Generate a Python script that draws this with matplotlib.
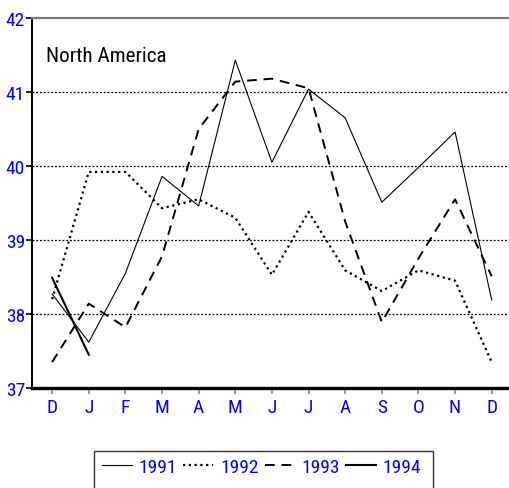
import matplotlib
matplotlib.use("Agg")
import matplotlib.pyplot as plt
from matplotlib import font_manager
from matplotlib.patches import Rectangle

months = ["D", "J", "F", "M", "A", "M", "J", "J", "A", "S", "O", "N", "D"]
y1991 = [38.27, 37.62, 38.55, 39.86, 39.46, 41.43, 40.05, 41.04, 40.65, 39.51, 39.98, 40.46, 38.19]
y1992 = [38.20, 39.92, 39.92, 39.43, 39.55, 39.30, 38.53, 39.38, 38.59, 38.31, 38.59, 38.45, 37.35]
y1993 = [37.35, 38.14, 37.82, 38.78, 40.50, 41.14, 41.18, 41.05, 39.25, 37.89, 38.75, 39.55, 38.51]
y1994 = [38.49, 37.45]
yticks = [37, 38, 39, 40, 41, 42]
title = "North America"

names = {f.name for f in font_manager.fontManager.ttflist}
fam = "Liberation Sans"
for cand in ["Liberation Sans Narrow", "Arial Narrow", "Roboto Condensed", "Open Sans Condensed"]:
    if cand in names:
        fam = cand
        break
plt.rcParams["font.family"] = [fam, "DejaVu Sans"]

W, H = 510, 489
fig = plt.figure(figsize=(W / 100, H / 100), dpi=100)
ax = fig.add_axes([32 / W, 100 / H, 478 / W, 370 / H])

x = list(range(len(months)))
ax.plot(x, y1991, color="black", lw=0.8, ls="-", label="1991")
ax.plot(x, y1992, color="black", lw=1.6, ls=(0, (1, 1.6)), label="1992")
ax.plot(x, y1993, color="black", lw=1.4, ls=(0, (5, 3.5)), label="1993")
ax.plot(x[:len(y1994)], y1994, color="black", lw=1.5, ls="-", label="1994")

ax.set_xlim(-0.55, 12.5)
ax.set_ylim(37, 42)
ax.set_xticks(x)
ax.set_xticklabels(months)
ax.set_yticks(yticks)
ax.set_yticklabels([str(v) for v in yticks])

for v in yticks[1:-1]:
    ax.axhline(v, color="black", lw=0.9, ls=(0, (1.5, 1.5)), zorder=0)

ax.tick_params(axis="both", colors="#888888", labelcolor="#0000ff", labelsize=14,
               length=4, width=1.2, direction="out")
ax.tick_params(axis="y", colors="black", labelcolor="#0000ff", pad=1)
ax.tick_params(axis="x", pad=3)

ax.spines["right"].set_visible(False)
ax.spines["top"].set_color("#777777")
ax.spines["top"].set_linewidth(1.6)
ax.spines["left"].set_color("black")
ax.spines["left"].set_linewidth(1.4)
ax.spines["bottom"].set_color("black")
ax.spines["bottom"].set_linewidth(2.4)

ax.text((46 - 32) / 478, 1 - (56 - 19) / 370, title, transform=ax.transAxes,
        fontsize=15.2, color="black", va="center", ha="left")

# legend frame (its bottom runs off the figure, as in the reference)
fig.patches.append(Rectangle((94 / W, -0.05), (433 - 94) / W, (H - 452) / H + 0.05,
                             transform=fig.transFigure, fill=False,
                             edgecolor="#333333", lw=1.0))

leg = fig.legend(loc="center left", bbox_to_anchor=(94 / W, 1 - 468 / H),
                 ncol=4, frameon=False, fontsize=14,
                 handlelength=1.54, handletextpad=0.36, columnspacing=0.3,
                 borderpad=0.41, borderaxespad=0)
for t in leg.get_texts():
    t.set_color("#0000ff")

fig.savefig("out.png", dpi=100)
